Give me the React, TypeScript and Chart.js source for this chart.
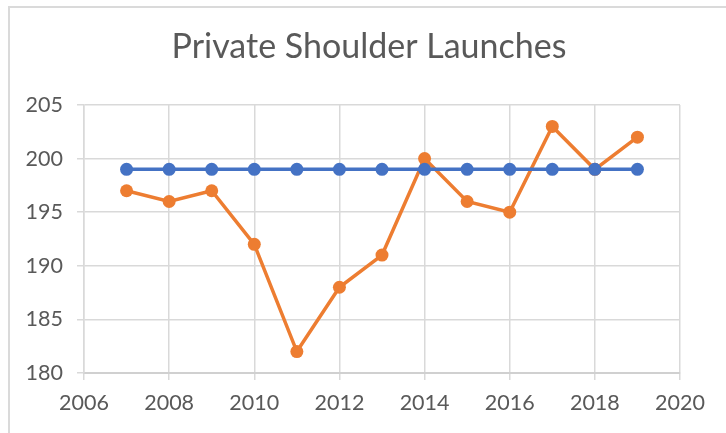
import React, { useEffect, useRef } from "react";
import { Chart, registerables } from "chart.js";

Chart.register(...registerables);

const years = [2007, 2008, 2009, 2010, 2011, 2012, 2013, 2014, 2015, 2016, 2017, 2018, 2019];
const blueValues = [199, 199, 199, 199, 199, 199, 199, 199, 199, 199, 199, 199, 199];
const orangeValues = [197, 196, 197, 192, 182, 188, 191, 200, 196, 195, 203, 199, 202];
const titleText = "Private Shoulder Launches";
const xMin = 2006;
const xMax = 2020;
const xStep = 2;
const yMin = 180;
const yMax = 205;
const yStep = 5;

const FONT = "Lato, 'Open Sans', sans-serif";

const titlePlugin = {
  id: "excelTitle",
  afterDraw(chart: any) {
    const ctx = chart.ctx;
    ctx.save();
    ctx.font = `34px ${FONT}`;
    ctx.fillStyle = "#595959";
    ctx.textAlign = "center";
    ctx.textBaseline = "alphabetic";
    ctx.fillText(titleText, 369, 58);
    ctx.restore();
  },
};

export default function App() {
  const ref = useRef<HTMLCanvasElement | null>(null);
  useEffect(() => {
    if (!ref.current) return;
    const chart = new Chart(ref.current, {
      type: "scatter",
      data: {
        datasets: [
          {
            label: "Series1",
            data: years.map((y, i) => ({ x: y, y: blueValues[i] })),
            showLine: true,
            borderColor: "#4472C4",
            backgroundColor: "#4472C4",
            borderWidth: 3.5,
            pointRadius: 6.5,
            pointBorderWidth: 0,
          },
          {
            label: "Series2",
            data: years.map((y, i) => ({ x: y, y: orangeValues[i] })),
            showLine: true,
            borderColor: "#ED7D31",
            backgroundColor: "#ED7D31",
            borderWidth: 3.5,
            pointRadius: 6.5,
            pointBorderWidth: 0,
          },
        ],
      },
      options: {
        animation: false,
        responsive: false,
        maintainAspectRatio: false,
        layout: { padding: { left: 0, top: 105, right: 46, bottom: 0 } },
        plugins: {
          legend: { display: false },
          tooltip: { enabled: false },
          title: { display: false },
        },
        scales: {
          x: {
            type: "linear",
            min: xMin,
            max: xMax,
            ticks: {
              stepSize: xStep,
              color: "#595959",
              font: { family: FONT, size: 21.5 },
              padding: 10,
              maxRotation: 0,
              callback: (v: any) => String(v),
            },
            grid: { color: "#d9d9d9", lineWidth: 1.5, tickLength: 7, drawTicks: true },
            border: { color: "#d0d0d0", width: 2 },
            afterFit: (s: any) => {
              s.height = 60;
            },
          },
          y: {
            type: "linear",
            min: yMin,
            max: yMax,
            ticks: {
              stepSize: yStep,
              color: "#595959",
              font: { family: FONT, size: 21.5 },
              padding: 14,
            },
            grid: { color: "#d9d9d9", lineWidth: 1.5, tickLength: 7, drawTicks: true },
            border: { color: "#d9d9d9", width: 1.5 },
            afterFit: (s: any) => {
              s.width = 84;
            },
          },
        },
      },
      plugins: [titlePlugin],
    });
    return () => chart.destroy();
  }, []);
  return (
    <div
      style={{
        position: "absolute",
        left: 0,
        top: 0,
        width: 726,
        height: 433,
        overflow: "hidden",
        background: "#ffffff",
      }}
    >
      <div
        style={{
          position: "absolute",
          left: 8,
          top: 6,
          width: 1000,
          height: 1000,
          border: "2px solid #dadada",
          boxSizing: "border-box",
        }}
      />
      <canvas ref={ref} width={726} height={433} style={{ position: "absolute", left: 0, top: 0 }} />
    </div>
  );
}
